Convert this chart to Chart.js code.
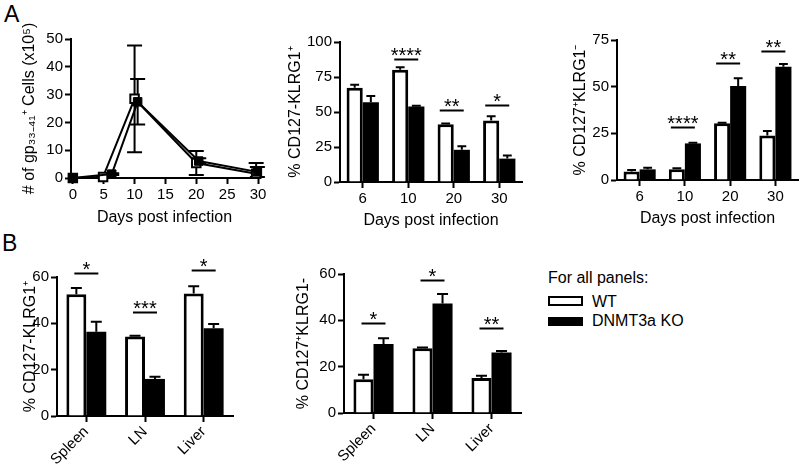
<!DOCTYPE html>
<html>
<head>
<meta charset="utf-8">
<script src="https://cdn.jsdelivr.net/npm/chart.js@4.4.0/dist/chart.umd.min.js"></script>
<style>
body { margin: 0; background: #fff; width: 802px; height: 467px; position: relative; overflow: hidden;
       font-family: 'Liberation Sans', Arial, sans-serif; color: #000; }
canvas { position: absolute; }
.txt { position: absolute; white-space: nowrap; font-size: 16px; line-height: 18px; }
.box { position: absolute; box-sizing: border-box; border: 2px solid #000; }
</style>
</head>
<body>
<div class="txt" style="left:4px;top:1px;font-size:23px;line-height:26px">A</div>
<div class="txt" style="left:2px;top:230px;font-size:23px;line-height:26px">B</div>

<canvas id="cellsChart" width="270" height="232" style="left:0;top:0"></canvas>
<canvas id="effChart" width="270" height="235" style="left:270px;top:0"></canvas>
<canvas id="memChart" width="257" height="235" style="left:545px;top:0"></canvas>
<canvas id="tissueEffChart" width="300" height="242" style="left:0;top:225px"></canvas>
<canvas id="tissueMemChart" width="245" height="242" style="left:285px;top:225px"></canvas>

<div class="txt" style="left:548px;top:269px">For all panels:</div>
<div class="box" style="left:548px;top:296px;width:35px;height:10px;background:#fff"></div>
<div class="txt" style="left:592px;top:293px">WT</div>
<div class="box" style="left:548px;top:317px;width:35px;height:9px;background:#000"></div>
<div class="txt" style="left:592px;top:312px">DNMT3a KO</div>

<script>
// panel A, left: gp33-41+ cells over time
const dayTicks = [0, 5, 10, 15, 20, 25, 30];
const cellTicks = [0, 10, 20, 30, 40, 50];
const wtDays = [0, 4.9, 10, 20, 29.7];
const wtCells = [0, 0.4, 28.5, 5.4, 1.5];
const wtCellsErr = [0, 0.2, 19.2, 4.3, 3.9];
const koDays = [0, 6.3, 10.5, 20.4, 29.9];
const koCells = [0, 1.4, 27.4, 6.1, 2.2];
const koCellsErr = [0, 0.3, 8.2, 1.0, 1.8];

// panel A, middle: CD127-KLRG1+
const dayCats = ['6', '10', '20', '30'];
const effTicks = [0, 25, 50, 75, 100];
const effWT = [67.4, 80.2, 41.2, 44];
const effWTErr = [2.1, 1.8, 0.5, 3];
const effKO = [57, 54, 23, 16.7];
const effKOErr = [4.4, 0.5, 2.5, 2.3];
const effSig = ['', '****', '**', '*'];
const effSigAt = [null, 88, 51.2, 55.2];

// panel A, right: CD127+KLRG1-
const memTicks = [0, 25, 50, 75];
const memWT = [4.5, 5.7, 30.4, 23.8];
const memWTErr = [0.9, 0.6, 0.3, 2.5];
const memKO = [5.7, 19.6, 50.4, 60.7];
const memKOErr = [0.9, 0.4, 4.1, 1.4];
const memSig = ['', '****', '**', '**'];
const memSigAt = [null, 28.2, 62.5, 69.3];

// panel B: tissues
const tissues = ['Spleen', 'LN', 'Liver'];
const tissueTicks = [0, 20, 40, 60];
const tEffWT = [52.6, 34.3, 52.9];
const tEffWTErr = [2.7, 0.3, 3.1];
const tEffKO = [36.4, 16, 37.9];
const tEffKOErr = [4.3, 0.9, 1.8];
const tEffSig = ['*', '***', '*'];
const tEffSigAt = [61.7, 45, 62.9];
const tMemWT = [14.6, 28, 15.1];
const tMemWTErr = [1.9, 0.3, 1];
const tMemKO = [29.8, 47.3, 26.1];
const tMemKOErr = [2.5, 4.1, 0.7];
const tMemSig = ['*', '*', '**'];
const tMemSigAt = [38.7, 57.4, 36.6];

Chart.defaults.font.family = "'Liberation Sans', Arial, sans-serif";
Chart.defaults.color = '#000';

const errorBars = {
    id: 'errorBars',
    beforeDatasetsDraw(chart, args, opts) {
        if (opts.under) this.draw(chart, opts);
    },
    afterDatasetsDraw(chart, args, opts) {
        if (!opts.under) this.draw(chart, opts);
    },
    draw(chart, opts) {
        if (!opts.errs) return;
        const ctx = chart.ctx;
        const y = chart.scales.y;
        ctx.save();
        ctx.strokeStyle = '#000';
        ctx.lineWidth = 2;
        opts.errs.forEach((errs, di) => {
            const meta = chart.getDatasetMeta(di);
            const vals = chart.data.datasets[di].data;
            meta.data.forEach((el, i) => {
                const e = errs[i];
                if (!e) return;
                const v = typeof vals[i] === 'object' ? vals[i].y : vals[i];
                const half = (opts.cap || el.width * 0.55) / 2;
                const top = y.getPixelForValue(v + e);
                let bot = y.getPixelForValue(v);
                let lowCap = false;
                if (opts.both && v - e > y.min) {
                    bot = y.getPixelForValue(v - e);
                    lowCap = true;
                } else if (opts.both) {
                    bot = y.getPixelForValue(y.min);
                }
                ctx.beginPath();
                ctx.moveTo(el.x, top);
                ctx.lineTo(el.x, bot);
                ctx.moveTo(el.x - half, top);
                ctx.lineTo(el.x + half, top);
                if (lowCap) {
                    ctx.moveTo(el.x - half, bot);
                    ctx.lineTo(el.x + half, bot);
                }
                ctx.stroke();
            });
        });
        ctx.restore();
    }
};

const sigMarks = {
    id: 'sigMarks',
    afterDatasetsDraw(chart, args, opts) {
        if (!opts.labels) return;
        const {ctx, scales: {x, y}} = chart;
        ctx.save();
        ctx.strokeStyle = '#000';
        ctx.fillStyle = '#000';
        ctx.lineWidth = 2;
        ctx.font = "20px 'Liberation Sans', Arial, sans-serif";
        ctx.textAlign = 'center';
        ctx.textBaseline = 'alphabetic';
        opts.labels.forEach((lab, i) => {
            if (!lab) return;
            const cx = x.getPixelForValue(i) + (opts.shift || 0);
            const ly = Math.round(y.getPixelForValue(opts.at[i])) + 0.5;
            ctx.beginPath();
            ctx.moveTo(cx - opts.half, ly);
            ctx.lineTo(cx + opts.half, ly);
            ctx.stroke();
            ctx.fillText(lab, cx, ly + 2);
        });
        ctx.restore();
    }
};

function yAxis(ticks, title, width) {
    return {
        min: ticks[0],
        max: ticks[ticks.length - 1],
        afterBuildTicks: s => { s.ticks = ticks.map(v => ({value: v})); },
        afterFit: s => { s.width = width; s.paddingTop = 0; s.paddingBottom = 0; },
        border: {color: '#000', width: 2},
        grid: {drawOnChartArea: false, tickLength: 6, tickWidth: 2, tickColor: '#000'},
        ticks: {font: {size: 15}, padding: 2, color: '#000'},
        title: {display: true, text: title, font: {size: 16}, padding: 0, color: '#000'}
    };
}

function catAxis(height, rotated) {
    return {
        offset: true,
        afterFit: s => { s.height = height; s.paddingLeft = 0; s.paddingRight = 0; },
        border: {color: '#000', width: 2},
        grid: {offset: false, drawOnChartArea: false, tickLength: 6, tickWidth: 2, tickColor: '#000'},
        ticks: {font: {size: 15}, padding: rotated ? 1 : 2, color: '#000', autoSkip: false,
                minRotation: rotated ? 45 : 0, maxRotation: rotated ? 45 : 0},
        title: {display: !rotated, text: 'Days post infection', font: {size: 16}, padding: 0, color: '#000'}
    };
}

function barChart(id, cfg) {
    const ctx = document.getElementById(id).getContext('2d');
    return new Chart(ctx, {
        type: 'bar',
        data: {
            labels: cfg.labels,
            datasets: [{
                label: 'WT',
                data: cfg.wt,
                backgroundColor: '#fff',
                borderColor: '#000',
                borderWidth: 3,
                categoryPercentage: cfg.catPct,
                barPercentage: 1.0,
            }, {
                label: 'DNMT3a KO',
                data: cfg.ko,
                backgroundColor: '#000',
                borderColor: '#000',
                borderWidth: 0,
                categoryPercentage: cfg.catPct,
                barPercentage: 1.0,
            }]
        },
        options: {
            responsive: false,
            animation: false,
            layout: {padding: cfg.pad},
            plugins: {
                legend: {display: false},
                tooltip: {enabled: false},
                errorBars: {errs: [cfg.wtErr, cfg.koErr]},
                sigMarks: {labels: cfg.sig, at: cfg.sigAt, half: 12, shift: cfg.shift || 0},
            },
            scales: {
                x: catAxis(cfg.xh, cfg.rotated),
                y: yAxis(cfg.ticks, cfg.title, cfg.yw),
            }
        },
        plugins: [errorBars, sigMarks]
    });
}

// line panel
new Chart(document.getElementById('cellsChart').getContext('2d'), {
    type: 'scatter',
    data: {
        datasets: [{
            label: 'DNMT3a KO',
            data: koDays.map((d, i) => ({x: d, y: koCells[i]})),
            showLine: true,
            borderColor: '#000',
            borderWidth: 2,
            pointStyle: 'rect',
            pointRadius: 6,
            pointBackgroundColor: '#000',
            pointBorderColor: '#000',
            pointBorderWidth: 1,
            clip: false,
            order: 0,
        }, {
            label: 'WT',
            data: wtDays.map((d, i) => ({x: d, y: wtCells[i]})),
            showLine: true,
            borderColor: '#000',
            borderWidth: 2,
            pointStyle: 'rect',
            pointRadius: 6,
            pointBackgroundColor: '#fff',
            pointBorderColor: '#000',
            pointBorderWidth: 2,
            clip: false,
            order: 1,
        }]
    },
    options: {
        responsive: false,
        animation: false,
        layout: {padding: {left: 20, right: 12, top: 39, bottom: 5}},
        plugins: {
            legend: {display: false},
            tooltip: {enabled: false},
            errorBars: {errs: [koCellsErr, wtCellsErr], both: true, under: true, cap: 15},
        },
        scales: {
            x: {
                type: 'linear',
                min: -0.3,
                max: 30,
                afterBuildTicks: s => { s.ticks = dayTicks.map(v => ({value: v})); },
                afterFit: s => { s.height = 49; s.paddingLeft = 0; s.paddingRight = 0; },
                border: {color: '#000', width: 2},
                grid: {drawOnChartArea: false, tickLength: 6, tickWidth: 2, tickColor: '#000'},
                ticks: {font: {size: 15}, padding: 2, color: '#000'},
                title: {display: true, text: 'Days post infection', font: {size: 16}, padding: 0, color: '#000'}
            },
            y: yAxis(cellTicks, '# of gp\u2083\u2083\u208B\u2084\u2081\u207A Cells (x10\u2075)', 51)
        }
    },
    plugins: [errorBars]
});

barChart('effChart', {
    labels: dayCats, wt: effWT, ko: effKO, wtErr: effWTErr, koErr: effKOErr,
    sig: effSig, sigAt: effSigAt, ticks: effTicks, title: '% CD127-KLRG1\u207A',
    catPct: 0.71, pad: {left: 16, right: 18, top: 42, bottom: 5}, yw: 54, xh: 48, shift: -2
});

barChart('memChart', {
    labels: dayCats, wt: memWT, ko: memKO, wtErr: memWTErr, koErr: memKOErr,
    sig: memSig, sigAt: memSigAt, ticks: memTicks, title: '% CD127\u207AKLRG1\u207B',
    catPct: 0.71, pad: {left: 26, right: 4, top: 40, bottom: 7}, yw: 46, xh: 48, shift: -2
});

barChart('tissueEffChart', {
    labels: tissues, wt: tEffWT, ko: tEffKO, wtErr: tEffWTErr, koErr: tEffKOErr,
    sig: tEffSig, sigAt: tEffSigAt, ticks: tissueTicks, title: '% CD127-KLRG1\u207A',
    catPct: 0.68, pad: {left: 21, right: 67, top: 52, bottom: 0}, yw: 36, xh: 51, rotated: true
});

barChart('tissueMemChart', {
    labels: tissues, wt: tMemWT, ko: tMemKO, wtErr: tMemWTErr, koErr: tMemKOErr,
    sig: tMemSig, sigAt: tMemSigAt, ticks: tissueTicks, title: '% CD127\u207AKLRG1-',
    catPct: 0.68, pad: {left: 9, right: 9, top: 49, bottom: 0}, yw: 50, xh: 54, rotated: true
});
</script>
</body>
</html>
